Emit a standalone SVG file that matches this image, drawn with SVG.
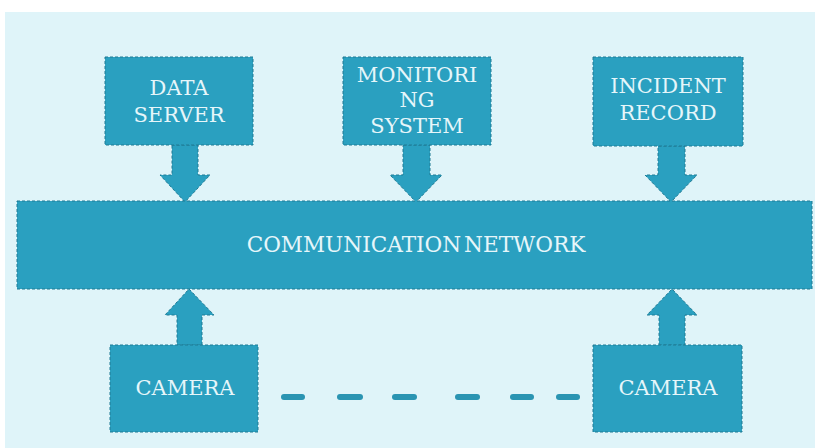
<svg xmlns="http://www.w3.org/2000/svg" width="815" height="448" viewBox="0 0 815 448">
<style>
.box{fill:#2aa0c0;stroke:#1e7a94;stroke-width:1;stroke-dasharray:3 2}
.arr{fill:#2aa0c0;stroke:#1e7a94;stroke-width:1;stroke-dasharray:3 2}
text{font-family:'DejaVu Serif','Liberation Serif',serif;font-size:21px;fill:#e6f6fa;text-anchor:middle}
.dash{stroke:#2a94b2;stroke-width:6;stroke-linecap:round;fill:none}
</style>
<rect x="0" y="0" width="815" height="448" fill="#ffffff"/>
<rect x="5" y="12" width="810" height="436" fill="#dff4f9"/>
<g id="connectors">
<path class="arr" d="M172,145 H198 V175 H210 L185,202 L160,175 H172 Z"/>
<path class="arr" d="M403,145 H430 V175 H442 L416,202 L390,175 H403 Z"/>
<path class="arr" d="M658,146 H685 V175 H697 L671,202 L645,175 H658 Z"/>
<path class="arr" d="M177,345 H202 V315 H214 L189,289 L165,315 H177 Z"/>
<path class="arr" d="M659,345 H685 V315 H697 L672,289 L647,315 H659 Z"/>
<g class="dash">
<line x1="284" y1="397" x2="302" y2="397"/>
<line x1="340" y1="397" x2="360" y2="397"/>
<line x1="395" y1="397" x2="414" y2="397"/>
<line x1="458" y1="397" x2="477" y2="397"/>
<line x1="513" y1="397" x2="531" y2="397"/>
<line x1="559" y1="397" x2="577" y2="397"/>
</g>
</g>
<g id="data-server">
<rect class="box" x="105" y="57" width="148" height="88"/>
<text x="179" y="95">DATA</text>
<text x="179" y="122">SERVER</text>
</g>
<g id="monitoring-system">
<rect class="box" x="343" y="57" width="148" height="88"/>
<text x="417" y="82">MONITORI</text>
<text x="417" y="107">NG</text>
<text x="417" y="133">SYSTEM</text>
</g>
<g id="incident-record">
<rect class="box" x="593" y="57" width="150" height="89"/>
<text x="668" y="93">INCIDENT</text>
<text x="668" y="120">RECORD</text>
</g>
<g id="communication-network">
<rect class="box" x="17" y="201" width="795" height="88"/>
<text x="416" y="252" style="font-size:21.6px" word-spacing="-4">COMMUNICATION NETWORK</text>
</g>
<g id="camera-1">
<rect class="box" x="110" y="345" width="148" height="87"/>
<text x="185" y="395">CAMERA</text>
</g>
<g id="camera-2">
<rect class="box" x="593" y="345" width="149" height="87"/>
<text x="668" y="395">CAMERA</text>
</g>
</svg>
